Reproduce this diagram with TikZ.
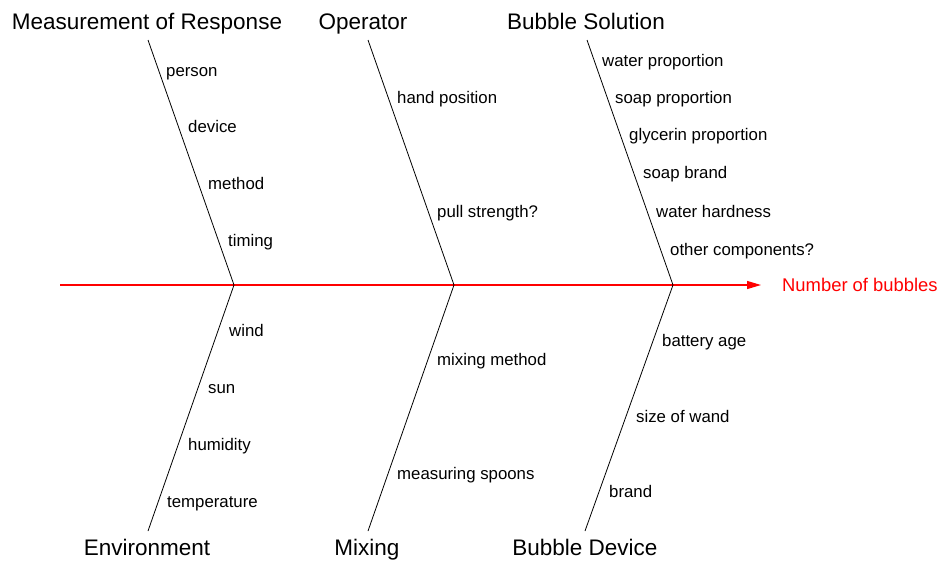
\documentclass[tikz,border=0pt]{standalone}
\usepackage{fontspec}
\setmainfont{Liberation Sans}
\usetikzlibrary{arrows.meta}

\begin{document}
\begin{tikzpicture}[
  x=1pt, y=-1pt,
  bone/.style={draw=black, line width=0.8pt},
  spine/.style={draw=red, fill=red, line width=1.2pt, -{Triangle[length=14pt, width=8pt]}},
  cause/.style={font=\fontsize{22.5}{26}\selectfont, anchor=base, inner sep=0pt},
  factor/.style={font=\fontsize{16.8}{20}\selectfont, anchor=base west, inner sep=0pt},
  effect/.style={font=\fontsize{18.4}{22}\selectfont, text=red, anchor=base west, inner sep=0pt}
]
\useasboundingbox (0,0) rectangle (940,560);

% Spine
\coordinate (tail) at (60,285);
\node[effect] (effect) at (782,291) {Number of bubbles};
\coordinate (tip) at (761,285);
\draw[spine] (tail) -- (tip);

% Joints on the spine
\coordinate (j1) at (234,285);
\coordinate (j2) at (454,285);
\coordinate (j3) at (673,285);

% Causes, top
\node[cause] (meas) at (147,29) {Measurement of Response};
\node[cause] (oper) at (363,29) {Operator};
\node[cause] (soln) at (586,29) {Bubble Solution};
% Causes, bottom
\node[cause] (env) at (147,555) {Environment};
\node[cause] (mix) at (367,555) {Mixing};
\node[cause] (dev) at (585,555) {Bubble Device};

% Bones
\coordinate (meas-e) at (148,40);
\coordinate (oper-e) at (368,40);
\coordinate (soln-e) at (587,40);
\coordinate (env-e) at (148,531);
\coordinate (mix-e) at (368,531);
\coordinate (dev-e) at (585,531);
\draw[bone] (meas-e) -- (j1);
\draw[bone] (oper-e) -- (j2);
\draw[bone] (soln-e) -- (j3);
\draw[bone] (env-e) -- (j1);
\draw[bone] (mix-e) -- (j2);
\draw[bone] (dev-e) -- (j3);

% Factors
\node[factor] (person) at (166,76) {person};
\node[factor] (device) at (188,132) {device};
\node[factor] (method) at (208,189) {method};
\node[factor] (timing) at (228,246) {timing};

\node[factor] (hand) at (397,103) {hand position};
\node[factor] (pull) at (437,217) {pull strength?};

\node[factor] (water) at (602,66) {water proportion};
\node[factor] (soap) at (615,103) {soap proportion};
\node[factor] (glyc) at (629,140) {glycerin proportion};
\node[factor] (brand1) at (643,178) {soap brand};
\node[factor] (hard) at (656,217) {water hardness};
\node[factor] (other) at (670,255) {other components?};

\node[factor] (wind) at (229,336) {wind};
\node[factor] (sun) at (208,393) {sun};
\node[factor] (humid) at (188,450) {humidity};
\node[factor] (temp) at (167,507) {temperature};

\node[factor] (mixm) at (437,365) {mixing method};
\node[factor] (spoon) at (397,479) {measuring spoons};

\node[factor] (batt) at (662,346) {battery age};
\node[factor] (wand) at (636,422) {size of wand};
\node[factor] (brand2) at (609,497) {brand};
\end{tikzpicture}
\end{document}
